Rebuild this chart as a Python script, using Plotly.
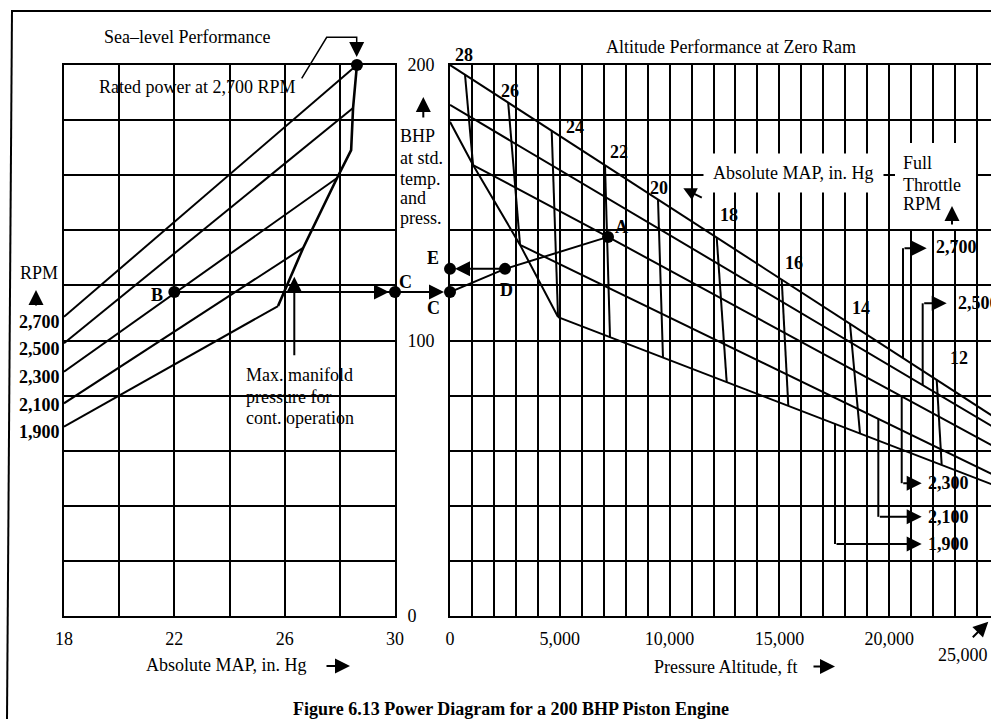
import plotly.graph_objects as go

W, H = 991, 719

# ------------------------------------------------------------------ data
# Sea-level performance (left panel): BHP vs absolute MAP for each RPM
rpm_names = ["2,700", "2,500", "2,300", "2,100", "1,900"]
rpm_map_start = [18.0, 18.0, 18.0, 18.0, 18.0]
rpm_bhp_start = [108.6, 99.0, 88.7, 77.2, 68.7]
rpm_map_end = [28.62, 28.48, 27.90, 26.67, 25.76]
rpm_bhp_end = [200.0, 184.4, 159.0, 133.6, 112.5]

# max manifold pressure for continuous operation (left panel)
maxmap_map = [25.76, 26.67, 27.90, 28.41, 28.48, 28.62]
maxmap_bhp = [112.5, 133.6, 159.0, 169.1, 184.4, 200.0]

# worked-example points
B_map, B_bhp = 22.0, 117.6
C_map, C_bhp = 30.0, 117.6

# Altitude performance (right panel): full-throttle lines, altitude ft vs BHP
ft_alt = {
    "2700": [0, 25000],
    "2500": [0, 25000],
    "2300": [1050, 7195, 25000],
    "2100": [3190, 25000],
    "1900": [4920, 25000],
}
ft_bhp = {
    "2700": [200.0, 71.1],
    "2500": [185.5, 67.4],
    "2300": [163.7, 137.6, 60.5],
    "2100": [134.7, 50.3],
    "1900": [108.5, 46.8],
}
# sea-level limit curve joining the full-throttle lines
limit_alt = [0, 1050, 3190, 4920]
limit_bhp = [179.4, 163.7, 134.7, 108.5]

# constant absolute MAP lines (in. Hg)
map_names = ["28", "26", "24", "22", "20", "18", "16", "14", "12"]
map_alt_top = [683, 2650, 4631, 7058, 9472, 12145, 15105, 18215, 22163]
map_bhp_top = [196.5, 186.3, 176.1, 163.6, 151.2, 137.4, 122.1, 106.1, 85.7]
map_alt_bot = [1050, 3190, 4920, 7286, 9699, 12600, 15405, 18670, 22390]
map_bhp_bot = [163.7, 134.7, 108.5, 101.2, 93.8, 84.9, 76.3, 66.3, 54.9]

# full-throttle RPM leaders
lead_names = ["2,700", "2,500", "2,300", "2,100", "1,900"]
lead_alt = [20628, 21525, 20570, 19504, 17532]
lead_bhp_from = [93.6, 83.8, 79.7, 71.6, 69.8]
lead_bhp_to = [133.5, 113.5, 48.2, 36.0, 26.1]
lead_alt_tip = [21708, 22618, 21480, 21480, 21480]

# example points on the altitude chart
C2_alt, C2_bhp = 0, 117.6
E_alt, E_bhp = 0, 126.0
D_alt, D_bhp = 2505, 126.0
A_alt, A_bhp = 7195, 137.6

map_ticks = [18, 20, 22, 24, 26, 28, 30]
map_ticktext = ["18", "", "22", "", "26", "", "30"]
bhp_ticks = list(range(0, 201, 20))
alt_ticks = list(range(0, 24001, 1000))
alt_labels = {0: "0", 5000: "5,000", 10000: "10,000", 15000: "15,000", 20000: "20,000"}

# ------------------------------------------------------------------ helpers
def PX(x):
    return x / W


def PY(y):
    return 1 - y / H


FONT = "Liberation Serif"
LW = 2
black = "black"

fig = go.Figure()

# ---------------- left panel traces
for i in range(len(rpm_names)):
    fig.add_trace(go.Scatter(
        x=[rpm_map_start[i], rpm_map_end[i]], y=[rpm_bhp_start[i], rpm_bhp_end[i]],
        mode="lines", line=dict(color=black, width=LW), xaxis="x", yaxis="y",
        showlegend=False, hoverinfo="skip"))
fig.add_trace(go.Scatter(x=maxmap_map, y=maxmap_bhp, mode="lines",
                         line=dict(color=black, width=2.6), xaxis="x", yaxis="y",
                         showlegend=False, hoverinfo="skip"))
fig.add_trace(go.Scatter(x=[B_map, C_map], y=[B_bhp, C_bhp], mode="lines",
                         line=dict(color=black, width=LW), xaxis="x", yaxis="y",
                         showlegend=False, hoverinfo="skip"))
# rated point (end of 2700 line)
fig.add_trace(go.Scatter(x=[B_map, C_map, rpm_map_end[0]], y=[B_bhp, C_bhp, rpm_bhp_end[0]],
                         mode="markers", marker=dict(color=black, size=12),
                         cliponaxis=False, xaxis="x", yaxis="y",
                         showlegend=False, hoverinfo="skip"))

# ---------------- right panel traces
for k in ft_alt:
    fig.add_trace(go.Scatter(x=ft_alt[k], y=ft_bhp[k], mode="lines",
                             line=dict(color=black, width=LW), xaxis="x2", yaxis="y2",
                             showlegend=False, hoverinfo="skip"))
fig.add_trace(go.Scatter(x=limit_alt, y=limit_bhp, mode="lines",
                         line=dict(color=black, width=LW), xaxis="x2", yaxis="y2",
                         showlegend=False, hoverinfo="skip"))
for i in range(len(map_names)):
    fig.add_trace(go.Scatter(x=[map_alt_top[i], map_alt_bot[i]], y=[map_bhp_top[i], map_bhp_bot[i]],
                             mode="lines", line=dict(color=black, width=LW),
                             xaxis="x2", yaxis="y2", showlegend=False, hoverinfo="skip"))
for i in range(len(lead_names)):
    fig.add_trace(go.Scatter(x=[lead_alt[i], lead_alt[i]], y=[lead_bhp_from[i], lead_bhp_to[i]],
                             mode="lines", line=dict(color=black, width=LW),
                             xaxis="x2", yaxis="y2", showlegend=False, hoverinfo="skip"))
fig.add_trace(go.Scatter(x=[C2_alt, D_alt, A_alt], y=[C2_bhp, D_bhp, A_bhp], mode="lines",
                         line=dict(color=black, width=LW), xaxis="x2", yaxis="y2",
                         showlegend=False, hoverinfo="skip"))
fig.add_trace(go.Scatter(x=[C2_alt, E_alt, D_alt, A_alt], y=[C2_bhp, E_bhp, D_bhp, A_bhp],
                         mode="markers", marker=dict(color=black, size=12), cliponaxis=False,
                         xaxis="x2", yaxis="y2", showlegend=False, hoverinfo="skip"))

# ------------------------------------------------------------------ annotations
ann = []


def text(x, y, s, size=18, bold=False, xanchor="center", yanchor="middle", bg=None, pad=0):
    d = dict(x=PX(x), y=PY(y), xref="paper", yref="paper", text=("<b>%s</b>" % s) if bold else s,
             showarrow=False, xanchor=xanchor, yanchor=yanchor,
             font=dict(family=FONT, size=size, color=black))
    if bg:
        d.update(bgcolor=bg, borderpad=pad)
    else:
        d.update(borderpad=0)
    ann.append(d)


def parrow(x, y, ax, ay, size=1.5):
    ann.append(dict(x=PX(x), y=PY(y), xref="paper", yref="paper", ax=ax, ay=ay,
                    text="", showarrow=True, arrowhead=2, arrowsize=size, arrowwidth=2,
                    arrowcolor=black))


# left panel texts
text(187, 36.5, "Sea\u2013level Performance")
text(197, 87, "Rated power at 2,700 RPM")
text(39, 273, "RPM")
parrow(36, 290, 0, 17)
ys_rpm = [321.7, 349, 376.7, 405, 431.7]
for s, yy in zip(rpm_names, ys_rpm):
    text(61, yy, s, bold=True, xanchor="right")
text(245, 375, "Max. manifold", xanchor="left")
text(245, 396.5, "pressure for", xanchor="left")
text(245, 417.5, "cont. operation", xanchor="left")
parrow(294.3, 276.7, 0, 80)
text(226, 665, "Absolute MAP, in. Hg")
parrow(350, 666, -25, 0)
text(156.7, 295, "B", bold=True)
text(405, 281.7, "C", bold=True)

# BHP axis text
parrow(423.3, 97, 0, 22)
for s, yy in zip(["BHP", "at std.", "temp.", "and", "press."], [136, 158.3, 179, 198, 218.3]):
    text(399, yy, s, xanchor="left")

# rated-power leader
ann_shapes = []
ann_shapes.append(dict(type="path", xref="paper", yref="paper",
                       path="M %f %f L %f %f L %f %f L %f %f" % (
                           PX(301.7), PY(78.3), PX(326.7), PY(37.3), PX(356.7), PY(37.3),
                           PX(356.7), PY(45)),
                       line=dict(color=black, width=1.5)))
parrow(356.7, 57, 0, -16)

# right panel texts
text(731, 47, "Altitude Performance at Zero Ram")
map_lbl_pos = [(464, 55), (510, 91), (575, 126.7), (619, 151.7), (659, 188.3),
               (729, 215), (794, 263.3), (861, 308.3), (959, 358.3)]
for s, (xx, yy) in zip(map_names, map_lbl_pos):
    text(xx, yy, s, bold=True)
text(793.5, 172.5, "Absolute MAP, in. Hg", bg="white", pad=9)
parrow(683.3, 188.3, 20, 10, size=1.3)
# Full throttle box
ann_shapes.append(dict(type="rect", xref="paper", yref="paper", x0=PX(895), x1=PX(976),
                       y0=PY(143), y1=PY(229), fillcolor="white", line=dict(width=0),
                       layer="above"))
text(902, 163.3, "Full", xanchor="left")
text(902, 184.5, "Throttle", xanchor="left")
text(902, 203.5, "RPM", xanchor="left")
parrow(952, 206, 0, 20)
lead_lbl_pos = [(935, 246.7), (957, 303.3), (927, 483.3), (927, 516.7), (927, 544)]
for s, (xx, yy) in zip(lead_names, lead_lbl_pos):
    text(xx, yy, s, bold=True, xanchor="left")
for i in range(len(lead_names)):
    ann.append(dict(x=lead_alt_tip[i], y=lead_bhp_to[i], xref="x2", yref="y2",
                    ax=lead_alt[i], ay=lead_bhp_to[i], axref="x2", ayref="y2",
                    text="", showarrow=True, arrowhead=2, arrowsize=1.5, arrowwidth=2,
                    arrowcolor=black))
text(621.7, 226.7, "A", bold=True)
text(506, 290, "D", bold=True)
text(433.3, 258.3, "E", bold=True)
text(433.3, 308.3, "C", bold=True)
# example arrows
ann.append(dict(x=C_map, y=C_bhp, xref="x", yref="y", ax=-24, ay=0, text="",
                showarrow=True, arrowhead=2, arrowsize=1.5, arrowwidth=2, standoff=6,
                arrowcolor=black))
ann.append(dict(x=C2_alt, y=C2_bhp, xref="x2", yref="y2", ax=-55, ay=0, text="",
                showarrow=True, arrowhead=2, arrowsize=1.5, arrowwidth=2, standoff=6,
                arrowcolor=black))
ann.append(dict(x=E_alt, y=E_bhp, xref="x2", yref="y2", ax=D_alt, ay=D_bhp,
                axref="x2", ayref="y2", text="", showarrow=True, arrowhead=2,
                arrowsize=1.5, arrowwidth=2, standoff=5, arrowcolor=black))
text(725, 666.5, "Pressure Altitude, ft")
parrow(835, 666.5, -23, 0)
text(962.5, 655, "25,000")
parrow(988.3, 621.7, -17, 17)

# caption
text(510.8, 709, "Figure 6.13 Power Diagram for a 200 BHP Piston Engine", bold=True)

# outer frame
ann_shapes.append(dict(type="line", xref="paper", yref="paper", x0=PX(12), y0=PY(11),
                       x1=PX(991), y1=PY(11), line=dict(color=black, width=2)))
ann_shapes.append(dict(type="line", xref="paper", yref="paper", x0=PX(12), y0=PY(10),
                       x1=PX(7), y1=PY(719), line=dict(color=black, width=2)))

# ------------------------------------------------------------------ axes
ydom = [PY(616), PY(65)]
tickfont = dict(family=FONT, size=18, color=black)
grid = dict(showgrid=True, gridcolor=black, gridwidth=2, zeroline=False,
            showline=True, linecolor=black, linewidth=2, ticks="", automargin=False)

alt_end = (991 - 450) / 0.02196

fig.update_layout(
    template="none",
    width=W, height=H, margin=dict(l=0, r=0, t=0, b=0, pad=0, autoexpand=False),
    paper_bgcolor="white", plot_bgcolor="white", showlegend=False,
    xaxis=dict(domain=[PX(64), PX(395)], range=[18, 30], tickmode="array",
               tickvals=map_ticks, ticktext=map_ticktext, tickfont=tickfont,
               ticklabelstandoff=5, mirror=True, anchor="y", **grid),
    yaxis=dict(domain=ydom, range=[0, 200], tickmode="array", tickvals=bhp_ticks,
               showticklabels=False, mirror=True, anchor="x", **grid),
    xaxis2=dict(domain=[PX(450), 1.0], range=[0, alt_end], tickmode="array",
                tickvals=alt_ticks, ticktext=[alt_labels.get(v, "") for v in alt_ticks],
                tickfont=tickfont, ticklabelstandoff=5, mirror=True, anchor="y2", **grid),
    yaxis2=dict(domain=ydom, range=[0, 200], tickmode="array", tickvals=bhp_ticks,
                ticktext=[{0: "0\u2007\u2007", 100: "100", 200: "200"}.get(v, "") for v in bhp_ticks],
                tickfont=tickfont, ticklabelstandoff=10, anchor="x2", **grid),
    annotations=ann,
    shapes=ann_shapes,
)

fig.write_html(
    "out.html",
    post_script="document.body.style.margin='0px';document.body.style.padding='0px';"
                "document.body.style.overflow='hidden';",
)
